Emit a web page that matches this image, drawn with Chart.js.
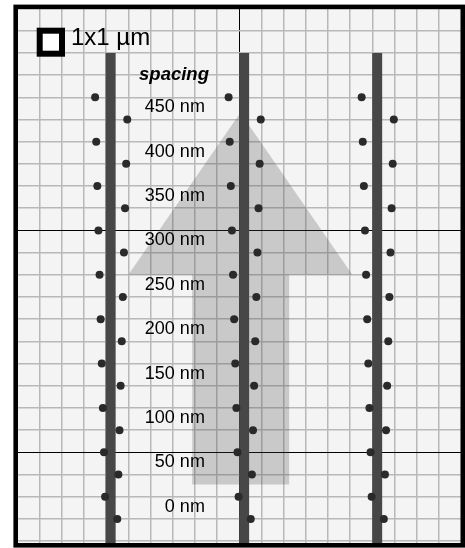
<!DOCTYPE html>
<html>
<head>
<meta charset="utf-8">
<script src="https://cdn.jsdelivr.net/npm/chart.js@4.4.1/dist/chart.umd.min.js"></script>
<style>
  html, body { margin: 0; padding: 0; background: #ffffff; }
  #wrap { width: 465px; height: 548px; position: relative; }
</style>
</head>
<body>
<div id="wrap"><canvas id="chart"></canvas></div>
<script>
// Wire centre lines (nm) and their vertical extent
const wireX = [-580, 22, 622];
const wireTop = 1800;
const wireBottom = -410;

// Dots left of each wire: row heights (nm) and offset from the wire centre (nm)
const leftRowY = [1600, 1400, 1200, 1000, 800, 600, 400, 200, 0, -200];
const leftOffset = [-70, -65, -60, -55, -50, -45, -40, -35, -30, -25];

// Dots right of each wire
const rightRowY = [1500, 1300, 1100, 900, 700, 500, 300, 100, -100, -300];
const rightOffset = [75, 70, 65, 60, 55, 50, 45, 40, 35, 30];

// Spacing captions, one per left/right dot pair
const spacingLabels = ['450 nm', '400 nm', '350 nm', '300 nm', '250 nm',
                       '200 nm', '150 nm', '100 nm', '50 nm', '0 nm'];

// Outline of the big direction arrow (nm)
const arrowX = [5, 510, 225, 225, -212, -212, -500, 5];
const arrowY = [1530, 800, 800, -145, -145, 800, 800, 1530];

const dotPoints = [];
wireX.forEach(wx => {
  leftRowY.forEach((y, i) => dotPoints.push({ x: wx + leftOffset[i], y }));
  rightRowY.forEach((y, i) => dotPoints.push({ x: wx + rightOffset[i], y }));
});

const wireSets = wireX.map(wx => ({
  type: 'scatter',
  data: [{ x: wx, y: wireBottom }, { x: wx, y: wireTop }],
  showLine: true,
  borderColor: '#474747',
  borderWidth: 10,
  borderCapStyle: 'butt',
  pointRadius: 0,
  fill: false,
  order: 1
}));

const arrowSet = {
  type: 'scatter',
  data: arrowX.map((x, i) => ({ x, y: arrowY[i] })),
  showLine: true,
  borderWidth: 0,
  borderColor: 'rgba(0,0,0,0)',
  backgroundColor: 'rgba(72,72,72,0.25)',
  fill: 'shape',
  pointRadius: 0,
  tension: 0,
  order: 2
};

const dotSet = {
  type: 'scatter',
  data: dotPoints,
  pointRadius: 4,
  pointBackgroundColor: '#2a2a2a',
  pointBorderWidth: 0,
  showLine: false,
  order: 0
};

const isMajor = v => Math.abs(v % 1000) < 1e-6;

function every100(scale) {
  const t = [];
  const start = Math.ceil(scale.min / 100) * 100;
  for (let v = start; v <= scale.max + 1e-6; v += 100) t.push({ value: v });
  scale.ticks = t;
}

const gridOpts = {
  color: c => (c.tick && isMajor(c.tick.value)) ? '#000000' : '#b8b8b8',
  lineWidth: c => (c.tick && isMajor(c.tick.value)) ? 1 : 1.5,
  drawTicks: false
};

const decor = {
  id: 'decor',
  beforeDraw(chart) {
    const { ctx, chartArea: a } = chart;
    ctx.save();
    ctx.fillStyle = '#f4f4f4';
    ctx.fillRect(a.left, a.top, a.right - a.left, a.bottom - a.top);
    ctx.restore();
  },
  afterDraw(chart) {
    const { ctx, chartArea: a, scales: { x, y } } = chart;
    ctx.save();
    // frame
    ctx.strokeStyle = '#000000';
    ctx.lineWidth = 4.6;
    ctx.strokeRect(a.left - 1.8, a.top - 1.6, a.right - a.left + 3.6, a.bottom - a.top + 3.6);

    // scale box
    ctx.fillStyle = '#ffffff';
    ctx.fillRect(42, 33, 18, 18);
    ctx.lineWidth = 6;
    ctx.strokeRect(39.7, 30.7, 22.3, 23);
    ctx.fillStyle = '#000000';
    ctx.font = '24px "Liberation Sans", Arial, sans-serif';
    ctx.textAlign = 'left';
    ctx.textBaseline = 'alphabetic';
    ctx.fillText('1x1 \u00b5m', 71, 44.5);

    // heading
    ctx.font = 'italic bold 18.5px "Liberation Sans", Arial, sans-serif';
    ctx.textAlign = 'center';
    ctx.fillText('spacing', 174, 79.5);

    // spacing captions between each dot pair
    ctx.font = '18px "Liberation Sans", Arial, sans-serif';
    ctx.textAlign = 'right';
    ctx.textBaseline = 'middle';
    const lx = x.getPixelForValue(-155);
    spacingLabels.forEach((s, i) => {
      const yy = y.getPixelForValue((leftRowY[i] + rightRowY[i]) / 2);
      ctx.fillText(s, lx, yy - 1);
    });
    ctx.restore();
  }
};

new Chart(document.getElementById('chart'), {
  type: 'scatter',
  data: { datasets: [dotSet, ...wireSets, arrowSet] },
  options: {
    responsive: true,
    maintainAspectRatio: false,
    animation: false,
    layout: { padding: { left: 17.5, right: 3.7, top: 8.5, bottom: 4.7 } },
    plugins: { legend: { display: false }, tooltip: { enabled: false } },
    scales: {
      x: {
        type: 'linear', min: -1000, max: 1000,
        afterBuildTicks: every100,
        ticks: { display: false },
        border: { display: false },
        grid: gridOpts
      },
      y: {
        type: 'linear', min: -410, max: 2000,
        afterBuildTicks: every100,
        ticks: { display: false },
        border: { display: false },
        grid: gridOpts
      }
    }
  },
  plugins: [decor]
});
</script>
</body>
</html>
